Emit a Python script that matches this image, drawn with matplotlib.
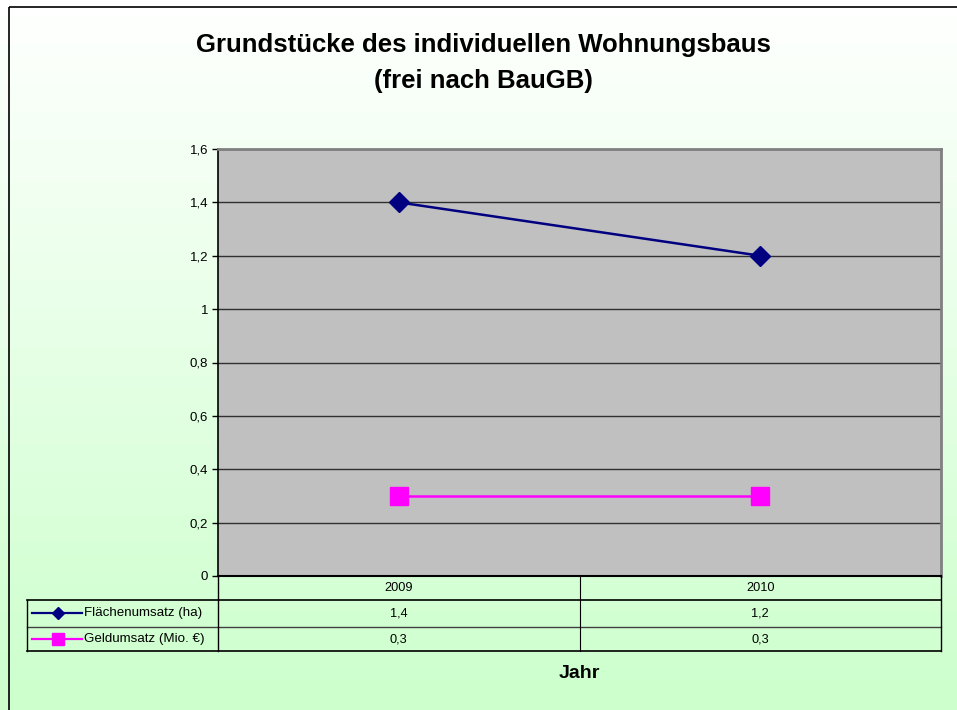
import numpy as np
import matplotlib
matplotlib.use("Agg")
import matplotlib.pyplot as plt
from matplotlib import transforms
from matplotlib.patches import Rectangle

plt.rcParams['font.family'] = ['Liberation Sans', 'DejaVu Sans']

title = "Grundstücke des individuellen Wohnungsbaus\n(frei nach BauGB)"
categories = ["2009", "2010"]
series_names = ["Flächenumsatz (ha)", "Geldumsatz (Mio. €)"]
flaechen = [1.4, 1.2]
geld = [0.3, 0.3]
yticks = [0, 0.2, 0.4, 0.6, 0.8, 1.0, 1.2, 1.4, 1.6]
xlabel = "Jahr"

W, H = 957, 710
fig = plt.figure(figsize=(W / 100, H / 100), dpi=100)

# background gradient
bg = fig.add_axes([0, 0, 1, 1], zorder=-10)
grad = np.linspace(0, 1, 256)[:, None]
top = np.array([1.0, 1.0, 1.0])
bot = np.array([204, 255, 204]) / 255
img = top[None, None, :] * (1 - grad[..., None]) + bot[None, None, :] * grad[..., None]
bg.imshow(img, aspect='auto', extent=[0, W, H, 0])
bg.set_xlim(0, W)
bg.set_ylim(H, 0)
bg.axis('off')

# overlay in pixel coords
ov = fig.add_axes([0, 0, 1, 1], zorder=5)
ov.set_xlim(0, W)
ov.set_ylim(H, 0)
ov.axis('off')
ov.patch.set_alpha(0)

# outer frame
ov.add_patch(Rectangle((9, 7), W + 20, H + 20, fill=False, edgecolor='black', lw=1.2))

# main axes
L, R, T, B = 218, 941, 149, 576
ax = fig.add_axes([L / W, 1 - B / H, (R - L) / W, (B - T) / H], zorder=2)
ax.set_facecolor('#C0C0C0')
x = np.arange(len(categories))
ax.plot(x, flaechen, color='#000080', lw=1.8, marker='D', markersize=10, zorder=3)
ax.plot(x, geld, color='#FF00FF', lw=1.8, marker='s', markersize=13, zorder=3)
ax.set_xlim(-0.5, len(categories) - 0.5)
ax.set_ylim(0, 1.6)
ax.set_yticks(yticks)
ax.set_yticklabels([("%g" % v).replace('.', ',') for v in yticks], fontsize=9.5)
ax.yaxis.grid(True, color='#303030', lw=1)
ax.set_axisbelow(True)
ax.set_xticks([])
ax.tick_params(axis='y', length=4, width=1, pad=3)
ax.spines['left'].set_color('black')
ax.spines['left'].set_linewidth(1.2)
ax.spines['bottom'].set_color('black')
ax.spines['bottom'].set_linewidth(1.5)
for s in ('top', 'right'):
    ax.spines[s].set_color('#808080')
    ax.spines[s].set_linewidth(2)

# title
ov.text(483, 63, title, ha='center', va='center', fontsize=18.5, fontweight='bold',
        linespacing=1.6)

# data table
trans = transforms.blended_transform_factory(ax.transData, ov.transData)
tl = 27
ov.plot([tl, R], [600, 600], color='black', lw=1.2)
ov.plot([tl, R], [627, 627], color='#404040', lw=1)
ov.plot([tl, R], [651, 651], color='black', lw=1.2)
ov.plot([tl, tl], [600, 651], color='black', lw=1)
ov.plot([L, L], [576, 651], color='black', lw=1)
mid = (L + R) / 2
ov.plot([mid, mid], [576, 651], color='black', lw=0.8)
ov.plot([R, R], [576, 651], color='black', lw=1)

tfs = 9.2
for i, c in enumerate(categories):
    ov.text(x[i], 588, c, transform=trans, ha='center', va='center', fontsize=tfs)
    ov.text(x[i], 613, ("%g" % flaechen[i]).replace('.', ','), transform=trans,
            ha='center', va='center', fontsize=tfs)
    ov.text(x[i], 639, ("%g" % geld[i]).replace('.', ','), transform=trans,
            ha='center', va='center', fontsize=tfs)

# legend keys
ov.plot([32, 82], [613, 613], color='#000080', lw=1.6)
ov.plot([58], [613], marker='D', color='#000080', markersize=6.5)
ov.plot([32, 82], [639, 639], color='#FF00FF', lw=1.6)
ov.plot([58], [639], marker='s', color='#FF00FF', markersize=8.5)
ov.text(84, 613, series_names[0], ha='left', va='center', fontsize=9.6)
ov.text(84, 639, series_names[1], ha='left', va='center', fontsize=9.6)

ov.text(mid, 673, xlabel, ha='center', va='center', fontsize=14, fontweight='bold')

fig.savefig("out.png", dpi=100)
